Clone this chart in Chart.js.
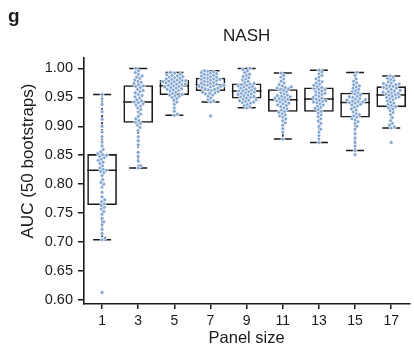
<!DOCTYPE html>
<html lang="en">
<head>
    <meta charset="UTF-8">
    <title>NASH - AUC by panel size</title>
    <script src="https://cdn.jsdelivr.net/npm/chart.js"></script>
    <style>
        body {
            margin: 0;
            background: #fff;
        }
        .wrap {
            position: relative;
            width: 414px;
            height: 346px;
        }
    </style>
</head>
<body>
    <div class="wrap"><canvas id="chart" width="414" height="346"></canvas></div>

    <script>
        const panelSizes = ['1', '3', '5', '7', '9', '11', '13', '15', '17'];

        // box statistics
        const whiskerHigh = [0.955, 1.000, 0.993, 0.996, 1.000, 0.992, 0.997, 0.993, 0.987];
        const q3 = [0.852, 0.971, 0.980, 0.984, 0.974, 0.964, 0.967, 0.958, 0.969];
        const medians = [0.824, 0.942, 0.970, 0.972, 0.961, 0.946, 0.947, 0.941, 0.954];
        const q1 = [0.764, 0.906, 0.954, 0.961, 0.948, 0.925, 0.925, 0.915, 0.933];
        const whiskerLow = [0.704, 0.828, 0.919, 0.942, 0.932, 0.878, 0.872, 0.858, 0.897];

        const yTicks = [0.60, 0.65, 0.70, 0.75, 0.80, 0.85, 0.90, 0.95, 1.00];

        // 50 bootstrap AUCs per panel size (estimated from the dots)
        const auc1 = [0.613, 0.704, 0.707, 0.715, 0.722, 0.730, 0.735, 0.741, 0.748, 0.753, 0.757, 0.760, 0.763,
            0.766, 0.770, 0.773, 0.778, 0.786, 0.795, 0.800, 0.803, 0.808, 0.815, 0.820, 0.822,
            0.824, 0.826, 0.828, 0.832, 0.836, 0.838, 0.841, 0.843, 0.846, 0.848, 0.850, 0.851, 0.853,
            0.856, 0.860, 0.866, 0.873, 0.882, 0.890, 0.900, 0.912, 0.925, 0.938, 0.947, 0.955];
        const auc3 = [0.828, 0.832, 0.840, 0.848, 0.855, 0.868, 0.875, 0.882, 0.893, 0.898, 0.902, 0.905,
            0.907, 0.910, 0.913, 0.917, 0.921, 0.925, 0.929, 0.932, 0.935, 0.937, 0.939, 0.941, 0.942,
            0.944, 0.946, 0.949, 0.951, 0.953, 0.955, 0.958, 0.960, 0.962, 0.964, 0.967, 0.969, 0.970,
            0.972, 0.974, 0.976, 0.978, 0.980, 0.983, 0.985, 0.987, 0.990, 0.993, 0.996, 1.000];
        const auc5 = [0.919, 0.921, 0.926, 0.932, 0.938, 0.942, 0.945, 0.948, 0.950, 0.952, 0.953, 0.954,
            0.955, 0.957, 0.959, 0.961, 0.962, 0.963, 0.964, 0.965, 0.966, 0.967, 0.968, 0.969, 0.970,
            0.971, 0.972, 0.973, 0.973, 0.974, 0.975, 0.976, 0.977, 0.977, 0.978, 0.979, 0.979, 0.980,
            0.981, 0.982, 0.983, 0.984, 0.985, 0.986, 0.987, 0.988, 0.989, 0.990, 0.992, 0.993];
        const auc7 = [0.918, 0.942, 0.944, 0.946, 0.949, 0.952, 0.954, 0.956, 0.957, 0.958, 0.959, 0.960,
            0.962, 0.963, 0.964, 0.965, 0.966, 0.967, 0.968, 0.969, 0.969, 0.970, 0.971, 0.971, 0.972,
            0.973, 0.974, 0.975, 0.976, 0.977, 0.978, 0.979, 0.980, 0.981, 0.981, 0.982, 0.983, 0.984,
            0.985, 0.986, 0.987, 0.988, 0.989, 0.990, 0.991, 0.992, 0.993, 0.994, 0.995, 0.996];
        const auc9 = [0.932, 0.934, 0.936, 0.938, 0.940, 0.941, 0.942, 0.943, 0.944, 0.945, 0.946, 0.947,
            0.949, 0.950, 0.951, 0.952, 0.953, 0.954, 0.955, 0.956, 0.957, 0.958, 0.959, 0.960, 0.961,
            0.962, 0.963, 0.964, 0.965, 0.966, 0.967, 0.968, 0.969, 0.970, 0.971, 0.972, 0.973, 0.974,
            0.976, 0.978, 0.980, 0.982, 0.984, 0.986, 0.988, 0.990, 0.993, 0.996, 0.998, 1.000];
        const auc11 = [0.878, 0.890, 0.896, 0.902, 0.906, 0.910, 0.913, 0.916, 0.918, 0.920, 0.922, 0.924,
            0.926, 0.928, 0.930, 0.932, 0.934, 0.936, 0.937, 0.939, 0.940, 0.942, 0.943, 0.944, 0.946,
            0.947, 0.948, 0.949, 0.950, 0.951, 0.952, 0.953, 0.954, 0.956, 0.958, 0.960, 0.962, 0.964,
            0.965, 0.966, 0.967, 0.968, 0.970, 0.972, 0.975, 0.978, 0.982, 0.985, 0.988, 0.992];
        const auc13 = [0.872, 0.878, 0.884, 0.890, 0.895, 0.900, 0.905, 0.909, 0.913, 0.917, 0.920, 0.923,
            0.926, 0.929, 0.931, 0.933, 0.935, 0.937, 0.939, 0.941, 0.942, 0.943, 0.944, 0.945, 0.947,
            0.949, 0.950, 0.952, 0.954, 0.955, 0.957, 0.958, 0.960, 0.961, 0.963, 0.964, 0.965, 0.967,
            0.969, 0.971, 0.973, 0.975, 0.977, 0.979, 0.982, 0.985, 0.988, 0.991, 0.994, 0.997];
        const auc15 = [0.851, 0.858, 0.866, 0.872, 0.880, 0.887, 0.895, 0.900, 0.905, 0.908, 0.911, 0.913,
            0.916, 0.918, 0.920, 0.922, 0.925, 0.928, 0.930, 0.933, 0.935, 0.937, 0.938, 0.940, 0.941,
            0.942, 0.943, 0.944, 0.945, 0.946, 0.947, 0.948, 0.950, 0.951, 0.952, 0.954, 0.956, 0.958,
            0.960, 0.962, 0.964, 0.966, 0.968, 0.970, 0.972, 0.975, 0.978, 0.982, 0.988, 0.993];
        const auc17 = [0.872, 0.897, 0.899, 0.902, 0.905, 0.910, 0.915, 0.920, 0.924, 0.927, 0.930, 0.932,
            0.934, 0.936, 0.938, 0.940, 0.942, 0.944, 0.946, 0.948, 0.949, 0.950, 0.951, 0.952, 0.954,
            0.955, 0.956, 0.957, 0.958, 0.959, 0.960, 0.961, 0.962, 0.964, 0.965, 0.966, 0.967, 0.969,
            0.970, 0.971, 0.972, 0.973, 0.974, 0.975, 0.977, 0.979, 0.981, 0.983, 0.985, 0.987];
        const aucByPanel = [auc1, auc3, auc5, auc7, auc9, auc11, auc13, auc15, auc17];

        const INK = '#1a1a1a';
        const DOT = 'rgb(128,164,210)';
        const FONT = "'Liberation Sans', Arial, sans-serif";
        Chart.defaults.font.family = FONT;
        Chart.defaults.color = INK;

        // whiskers, caps and medians drawn under the boxes and dots
        const boxPlot = {
            id: 'boxPlot',
            beforeDatasetsDraw(chart) {
                const { ctx, scales: { x, y } } = chart;
                const bars = chart.getDatasetMeta(0).data;
                ctx.save();
                ctx.strokeStyle = INK;
                ctx.lineWidth = 1.5;
                panelSizes.forEach((p, i) => {
                    const cx = x.getPixelForValue(i);
                    const half = bars[i].width / 2;
                    ctx.setLineDash([4, 3]);
                    ctx.beginPath();
                    ctx.moveTo(cx, y.getPixelForValue(q3[i]));
                    ctx.lineTo(cx, y.getPixelForValue(whiskerHigh[i]));
                    ctx.moveTo(cx, y.getPixelForValue(q1[i]));
                    ctx.lineTo(cx, y.getPixelForValue(whiskerLow[i]));
                    ctx.stroke();
                    ctx.setLineDash([]);
                    ctx.beginPath();
                    [whiskerHigh[i], whiskerLow[i]].forEach(v => {
                        const py = y.getPixelForValue(v);
                        ctx.moveTo(cx - 9, py);
                        ctx.lineTo(cx + 9, py);
                    });
                    const my = y.getPixelForValue(medians[i]);
                    ctx.moveTo(cx - half, my);
                    ctx.lineTo(cx + half, my);
                    ctx.stroke();
                });
                ctx.restore();
            },
            afterDraw(chart) {
                const { ctx, chartArea } = chart;
                ctx.save();
                ctx.fillStyle = INK;
                ctx.font = 'bold 19px ' + FONT;
                ctx.textAlign = 'left';
                ctx.textBaseline = 'alphabetic';
                ctx.fillText('g', 8, 22);
                ctx.font = '17px ' + FONT;
                ctx.textAlign = 'center';
                ctx.fillText('NASH', (chartArea.left + chartArea.right) / 2, 41);
                ctx.translate(33, 161);
                ctx.rotate(-Math.PI / 2);
                ctx.fillText('AUC (50 bootstraps)', 0, 0);
                ctx.restore();
            }
        };

        // simple beeswarm: place each dot at the smallest horizontal offset free of overlap
        function swarm(values, cx, xs, y, diam) {
            const placed = [];
            return values.slice().sort((a, b) => a - b).map(v => {
                const py = y.getPixelForValue(v);
                const cands = [0];
                placed.forEach(p => {
                    const dy = py - p.y;
                    if (Math.abs(dy) < diam) {
                        const dx = Math.sqrt(diam * diam - dy * dy);
                        cands.push(p.x + dx, p.x - dx);
                    }
                });
                cands.sort((a, b) => Math.abs(a) - Math.abs(b));
                let off = 0;
                for (const c of cands) {
                    if (placed.every(p => (p.x - c) ** 2 + (p.y - py) ** 2 >= diam * diam - 0.01)) {
                        off = c;
                        break;
                    }
                }
                placed.push({ x: off, y: py });
                return { x: xs.getValueForPixel(cx + off), y: v };
            });
        }

        const chart = new Chart(document.getElementById('chart'), {
            type: 'bar',
            data: {
                labels: panelSizes,
                datasets: [{
                    label: 'IQR',
                    data: panelSizes.map((p, i) => [q1[i], q3[i]]),
                    backgroundColor: 'rgba(0,0,0,0)',
                    borderColor: INK,
                    borderWidth: 1.6,
                    borderSkipped: false,
                    grouped: false,
                    barPercentage: 0.82,
                    categoryPercentage: 1,
                    order: 2
                }, {
                    type: 'scatter',
                    label: 'AUC',
                    data: [],
                    xAxisID: 'xs',
                    pointRadius: 1.9,
                    pointBackgroundColor: DOT,
                    pointBorderColor: '#ffffff',
                    pointBorderWidth: 0.7,
                    order: 1
                }]
            },
            options: {
                responsive: false,
                animation: false,
                devicePixelRatio: 1,
                layout: { padding: { top: 58, right: 1, left: 0, bottom: 0 } },
                plugins: {
                    legend: { display: false },
                    tooltip: { enabled: false }
                },
                scales: {
                    x: {
                        type: 'category',
                        offset: true,
                        grid: {
                            drawOnChartArea: false,
                            drawTicks: true,
                            tickLength: 5,
                            color: INK,
                            lineWidth: 1.5,
                            offset: false
                        },
                        border: { display: true, color: INK, width: 1.6 },
                        ticks: { font: { size: 14 }, padding: 4, maxRotation: 0 },
                        title: {
                            display: true,
                            text: 'Panel size',
                            font: { size: 16.5, lineHeight: 1 },
                            padding: { top: 0, bottom: -1 }
                        },
                        afterFit(s) { s.height = 42; }
                    },
                    xs: {
                        type: 'linear',
                        display: false,
                        min: 0,
                        max: panelSizes.length
                    },
                    y: {
                        min: 0.593,
                        max: 1.018,
                        afterBuildTicks(s) { s.ticks = yTicks.map(v => ({ value: v })); },
                        grid: {
                            drawOnChartArea: false,
                            drawTicks: true,
                            tickLength: 6,
                            color: INK,
                            lineWidth: 1.5
                        },
                        border: { display: true, color: INK, width: 1.6 },
                        ticks: {
                            font: { size: 14.5 },
                            padding: 5,
                            callback: v => v.toFixed(2)
                        },
                        afterFit(s) { s.width = 84; }
                    }
                }
            },
            plugins: [boxPlot]
        });

        chart.data.datasets[1].data = aucByPanel.flatMap((vals, i) =>
            swarm(vals, chart.scales.x.getPixelForValue(i), chart.scales.xs, chart.scales.y, 3.4));
        chart.update('none');
    </script>
</body>
</html>
